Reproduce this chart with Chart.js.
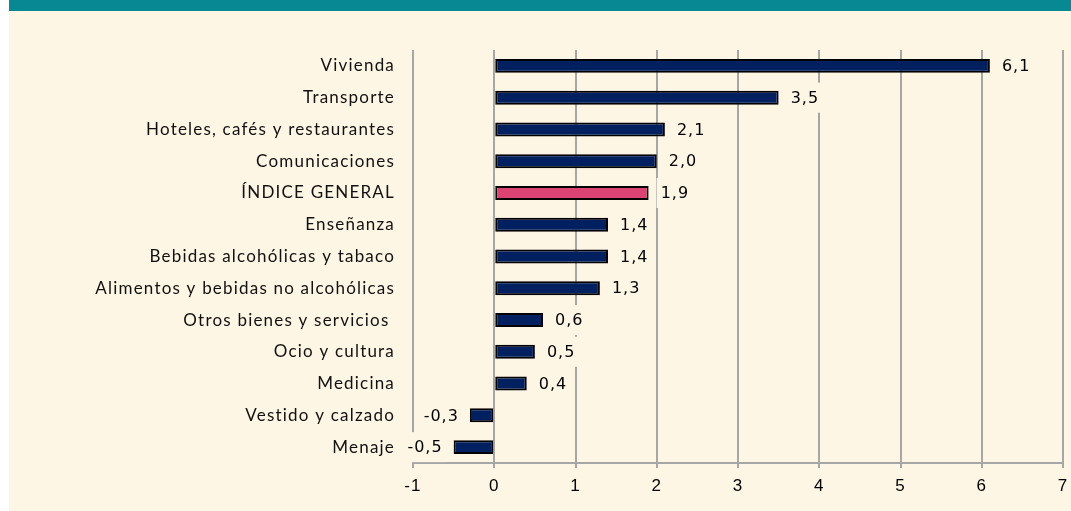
<!DOCTYPE html>
<html>
<head>
<meta charset="utf-8">
<script src="https://cdn.jsdelivr.net/npm/chart.js@4"></script>
<style>
    html, body { margin: 0; padding: 0; background: #fff; }
    #marco { position: absolute; left: 9px; top: 0; width: 1062px; height: 511px; background: #FDF6E4; }
    #cabecera { height: 11px; background: #088893; }
    #lienzo { position: absolute; left: 0; top: 11px; width: 1062px; height: 500px; }
</style>
</head>
<body>
<div id="marco">
    <div id="cabecera"></div>
    <div id="lienzo"><canvas id="grafico"></canvas></div>
</div>
<script>

const categorias = [
    "Vivienda",
    "Transporte",
    "Hoteles, cafés y restaurantes",
    "Comunicaciones",
    "ÍNDICE GENERAL",
    "Enseñanza",
    "Bebidas alcohólicas y tabaco",
    "Alimentos y bebidas no alcohólicas",
    "Otros bienes y servicios ",
    "Ocio y cultura",
    "Medicina",
    "Vestido y calzado",
    "Menaje"
];

const variaciones = [6.1, 3.5, 2.1, 2.0, 1.9, 1.4, 1.4, 1.3, 0.6, 0.5, 0.4, -0.3, -0.5];

const ejeMin = -1;
const ejeMax = 7;

const fondo = "#FDF6E4";
const azul = "#002060";
const rosa = "#DB4372";

const colores = categorias.map(
    c => c === "ÍNDICE GENERAL" ? rosa : azul
);

// etiquetas con el valor al final de cada barra, con caja de fondo
const etiquetasValor = {
    id: "etiquetasValor",
    afterDatasetsDraw(chart) {
        const ctx = chart.ctx;
        const meta = chart.getDatasetMeta(0);

        ctx.save();
        ctx.font = "16px 'DejaVu Sans'";
        ctx.letterSpacing = "1px";
        ctx.textBaseline = "middle";
        ctx.textAlign = "left";

        meta.data.forEach((barra, i) => {
            const v = variaciones[i];
            const texto = v.toFixed(1).replace(".", ",");
            const ancho = ctx.measureText(texto).width;
            const x0 = v >= 0 ? barra.x + 12 : barra.x - 11 - ancho;

            ctx.fillStyle = fondo;
            ctx.fillRect(x0 - 4, barra.y - 15, ancho + 8, 30);

            ctx.fillStyle = "#000";
            ctx.fillText(texto, x0, barra.y + 1);
        });

        ctx.restore();
    }
};

// espaciado de letras para los rótulos de categorías
const espaciado = {
    id: "espaciado",
    beforeDraw(chart) {
        chart.ctx.letterSpacing = "1.2px";
    }
};

new Chart(document.getElementById("grafico"), {

    type: "bar",

    data: {
        labels: categorias,
        datasets: [{
            data: variaciones,
            backgroundColor: colores,
            borderColor: "#000",
            borderWidth: 2,
            borderSkipped: false,
            barPercentage: 0.44,
            categoryPercentage: 1
        }]
    },

    options: {
        indexAxis: "y",
        responsive: true,
        maintainAspectRatio: false,
        animation: false,
        layout: {
            padding: { top: 39, right: 8, left: 0, bottom: 0 }
        },
        plugins: {
            legend: { display: false },
            tooltip: { enabled: false }
        },
        scales: {
            x: {
                min: ejeMin,
                max: ejeMax,
                ticks: {
                    stepSize: 1,
                    color: "#000",
                    padding: 8,
                    font: { family: "'Liberation Sans'", size: 17 }
                },
                grid: {
                    color: "#A6A6A6",
                    lineWidth: 2,
                    tickLength: 5
                },
                border: { color: "#A6A6A6", width: 2 },
                afterFit: (scale) => {
                    scale.height = 48;
                    scale.paddingLeft = 0;
                    scale.paddingRight = 0;
                }
            },
            y: {
                grid: { display: false, drawTicks: false },
                border: { display: false },
                ticks: {
                    color: "#111",
                    padding: 18,
                    font: { family: "Lato", size: 17 }
                },
                afterFit: (scale) => { scale.width = 404; }
            }
        }
    },

    plugins: [espaciado, etiquetasValor]
});

</script>
</body>
</html>
